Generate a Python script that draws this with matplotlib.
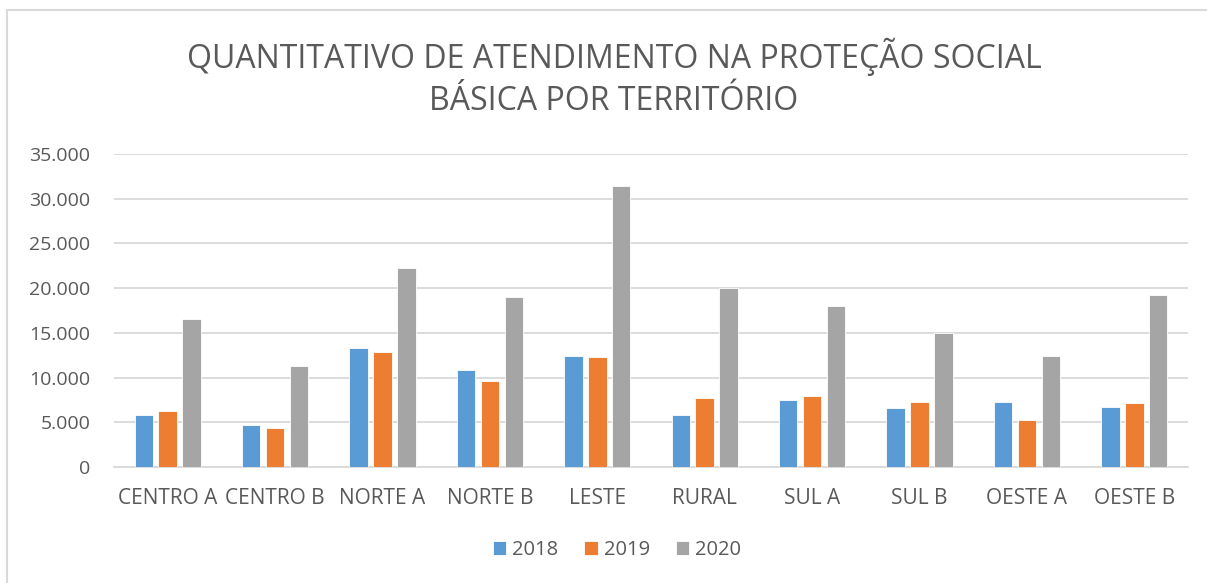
import numpy as np
import matplotlib.pyplot as plt
from matplotlib.ticker import FuncFormatter
from matplotlib.lines import Line2D

plt.rcParams['font.family'] = ['Open Sans', 'DejaVu Sans']

territorios = ['CENTRO A', 'CENTRO B', 'NORTE A', 'NORTE B', 'LESTE',
               'RURAL', 'SUL A', 'SUL B', 'OESTE A', 'OESTE B']
anos = ['2018', '2019', '2020']
v2018 = [5830, 4750, 13270, 10840, 12380, 5830, 7440, 6620, 7250, 6690]
v2019 = [6240, 4340, 12860, 9610, 12260, 7740, 7930, 7250, 5270, 7140]
v2020 = [16530, 11290, 22210, 18990, 31410, 19970, 17950, 15030, 12380, 19260]
cores = ['#5B9BD5', '#ED7D31', '#A5A5A5']
txt = '#595959'

fig = plt.figure(figsize=(12.07, 5.83), dpi=100)
ax = fig.add_axes([114 / 1207, 1 - 467 / 583, (1188 - 114) / 1207, (467 - 154) / 583])

x = np.arange(len(territorios))
desloc = 0.222
larg = 0.172
for i, (serie, cor) in enumerate(zip([v2018, v2019, v2020], cores)):
    ax.bar(x + (i - 1) * desloc, serie, larg, color=cor, label=anos[i],
           edgecolor='white', linewidth=0.6, zorder=3)

ax.set_xlim(-0.5, len(territorios) - 0.5)
ax.set_ylim(0, 35000)
ax.set_yticks(np.arange(0, 35001, 5000))
ax.yaxis.set_major_formatter(FuncFormatter(lambda v, p: '0' if v == 0 else '{:,.0f}'.format(v).replace(',', '.')))
ax.set_xticks(x)
ax.set_xticklabels(territorios)
ax.grid(axis='y', color='#D9D9D9', linewidth=1.3, zorder=0)
for s in ['top', 'right', 'left']:
    ax.spines[s].set_visible(False)
ax.spines['bottom'].set_color('#D9D9D9')
ax.spines['bottom'].set_linewidth(1.3)
ax.tick_params(axis='both', length=0, colors=txt)
ax.tick_params(axis='y', pad=17, labelsize=14)
ax.tick_params(axis='x', pad=15, labelsize=15)

cx = 614 / 1207  # centro do gráfico (a moldura está cortada à direita)
fig.text(cx, 1 - 57 / 583, 'QUANTITATIVO DE ATENDIMENTO NA PROTEÇÃO SOCIAL',
         ha='center', va='center', fontsize=23, color=txt)
fig.text(cx, 1 - 101 / 583, 'BÁSICA POR TERRITÓRIO',
         ha='center', va='center', fontsize=23, color=txt)

fig.legend(loc='center', bbox_to_anchor=(617 / 1207, 1 - 550 / 583), ncol=3, frameon=False,
           fontsize=14.5, labelcolor=txt, handlelength=0.65, handleheight=0.65,
           handletextpad=0.3, columnspacing=1.3)

# moldura do gráfico
fig.add_artist(Line2D([7 / 1207, 1], [1 - 10 / 583, 1 - 10 / 583], color='#D9D9D9', lw=1.5))
fig.add_artist(Line2D([7 / 1207, 7 / 1207], [0, 1 - 10 / 583], color='#D9D9D9', lw=1.5))

plt.savefig('out.png', dpi=100, facecolor='white')
